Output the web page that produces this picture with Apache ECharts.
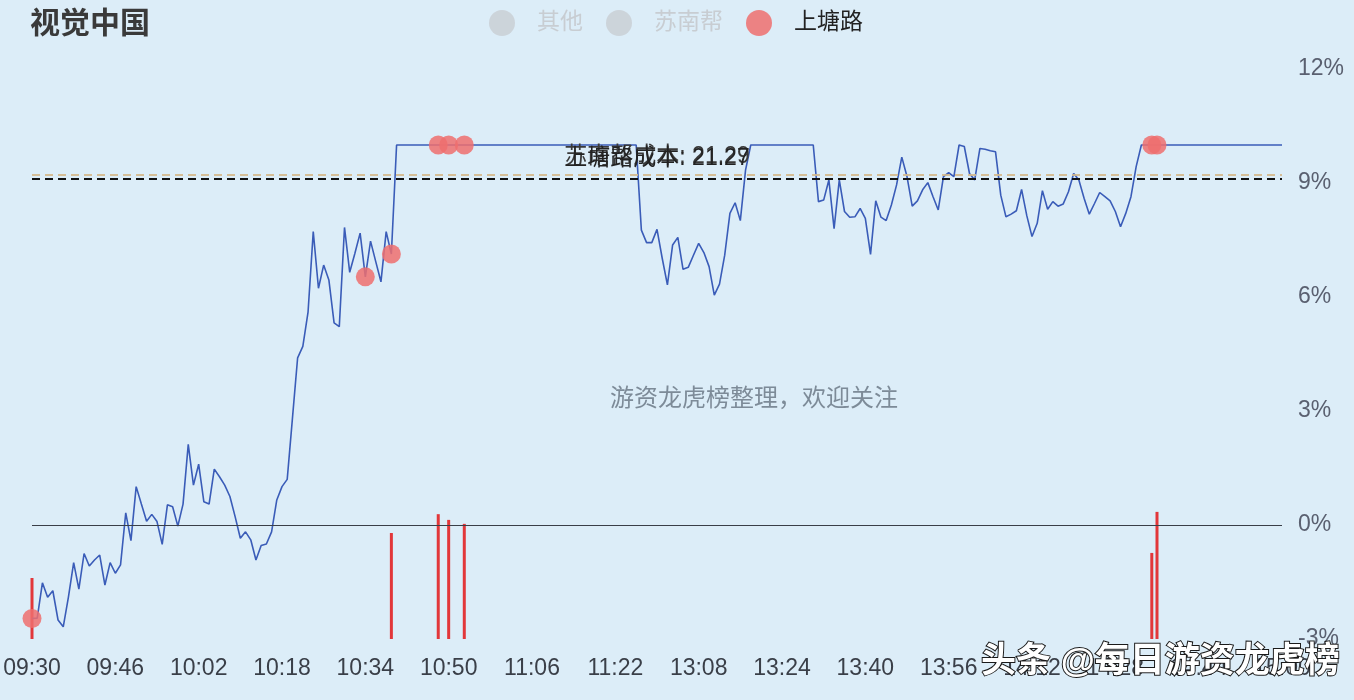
<!DOCTYPE html>
<html>
<head>
<meta charset="utf-8">
<script src="https://cdn.jsdelivr.net/npm/echarts@6/dist/echarts.min.js"></script>
<style>
html,body{margin:0;padding:0;background:#dcedf8;}
#chart{width:1354px;height:700px;}
</style>
</head>
<body>
<div id="chart"></div>
<script>
// ---- data ----
var stockName = '视觉中国';
var legendNames = ['其他', '苏南帮', '上塘路'];
var yTicks = [-3, 0, 3, 6, 9, 12];

// 241 one-minute slots: 09:30-11:30 and 13:01-15:00
function buildTimes() {
  var out = [];
  function push(h, m) { out.push((h < 10 ? '0' : '') + h + ':' + (m < 10 ? '0' : '') + m); }
  for (var t = 9 * 60 + 30; t <= 11 * 60 + 30; t++) push(Math.floor(t / 60), t % 60);
  for (var t2 = 13 * 60 + 1; t2 <= 15 * 60; t2++) push(Math.floor(t2 / 60), t2 % 60);
  return out;
}
var times = buildTimes();

// intraday percent change
var pctChange = [
  -2.46,-2.45,-1.52,-1.90,-1.73,-2.50,-2.68,-1.89,-0.99,-1.69,
  -0.75,-1.08,-0.92,-0.79,-1.58,-0.99,-1.27,-1.05,0.32,-0.41,
  1.01,0.55,0.10,0.28,0.09,-0.51,0.53,0.48,-0.03,0.55,
  2.12,1.05,1.60,0.61,0.55,1.47,1.27,1.05,0.75,0.22,
  -0.35,-0.18,-0.39,-0.92,-0.54,-0.50,-0.18,0.66,1.01,1.20,
  2.80,4.40,4.70,5.60,7.72,6.23,6.84,6.45,5.32,5.22,
  7.83,6.65,7.15,7.68,6.53,7.47,6.93,6.40,7.72,7.13,
  10.0,10.0,10.0,10.0,10.0,10.0,10.0,10.0,10.0,10.0,
  10.0,10.0,10.0,10.0,10.0,10.0,10.0,10.0,10.0,10.0,
  10.0,10.0,10.0,10.0,10.0,10.0,10.0,10.0,10.0,10.0,
  10.0,10.0,10.0,10.0,10.0,10.0,10.0,10.0,10.0,10.0,
  10.0,10.0,10.0,10.0,10.0,10.0,10.0,
  7.76,7.43,7.43,7.78,7.02,6.32,7.37,7.57,6.73,6.78,
  7.10,7.41,7.17,6.80,6.05,6.34,7.10,8.20,8.48,8.01,
  9.34,
  10.0,10.0,10.0,10.0,10.0,10.0,10.0,10.0,10.0,10.0,
  10.0,10.0,10.0,
  8.51,8.55,9.08,7.80,9.08,8.25,8.10,8.11,8.33,8.07,
  7.12,8.53,8.10,8.01,8.42,8.95,9.68,9.17,8.39,8.53,
  8.82,9.01,8.64,8.29,9.17,9.27,9.17,10.0,9.96,9.25,
  9.08,9.91,9.89,9.85,9.82,8.68,8.11,8.18,8.27,8.83,
  8.14,7.59,7.94,8.80,8.31,8.51,8.39,8.45,8.77,9.25,
  9.08,8.60,8.18,8.46,8.75,8.64,8.53,8.25,7.85,8.20,
  8.64,9.43,
  10.0,10.0,10.0,10.0,10.0,10.0,10.0,10.0,10.0,10.0,
  10.0,10.0,10.0,10.0,10.0,10.0,10.0,10.0,10.0,10.0,
  10.0,10.0,10.0,10.0,10.0,10.0,10.0,10.0
];

// 上塘路 trade markers (minute index) and bar heights (relative)
var tradeIdx = [0, 64, 69, 78, 80, 83, 215, 216];
var buyIdx = [0, 69, 78, 80, 83, 215, 216];
var buyVol = [10.7, 18.6, 21.9, 20.9, 20.2, 15.1, 22.3];

// cost lines
var costLines = [
  { name: '苏南帮成本', price: '21.29', pct: 9.22 },
  { name: '上塘路成本', price: '21.27', pct: 9.10 }
];
var watermarkMid = '游资龙虎榜整理，欢迎关注';
var watermarkCorner = '头条 @每日游资龙虎榜';

// ---- chart ----
var FONT = "'Liberation Sans','Noto Sans CJK SC',sans-serif";
var chart = echarts.init(document.getElementById('chart'), null, { renderer: 'canvas' });

var scatterData = tradeIdx.map(function (i) { return [i, pctChange[i]]; });
var barData = buyIdx.map(function (i, k) { return [i, buyVol[k]]; });

var option = {
  backgroundColor: '#dcedf8',
  animation: false,
  textStyle: { fontFamily: FONT },
  title: {
    text: stockName, left: 30, top: 10, padding: 0,
    textStyle: { fontSize: 30, fontWeight: 'bold', color: '#3a3a3a', fontFamily: FONT }
  },
  legend: {
    data: legendNames,
    left: 489, top: 10, padding: 0,
    itemWidth: 60, itemHeight: 26, itemGap: 23,
    icon: 'circle',
    selected: { '其他': false, '苏南帮': false, '上塘路': true },
    inactiveColor: '#c8cdd2',
    textStyle: { fontSize: 23, color: '#222', fontFamily: FONT }
  },
  grid: { left: 32, right: 72, top: 69, bottom: 61 },
  xAxis: {
    type: 'category', data: times, boundaryGap: false,
    axisLine: { show: false }, axisTick: { show: false }, splitLine: { show: false },
    axisLabel: { interval: 15, fontSize: 23, color: '#3a3f48', margin: 18, fontFamily: FONT }
  },
  yAxis: [
    {
      type: 'value', position: 'right', min: -3, max: 12, interval: 3,
      axisLine: { show: false }, axisTick: { show: false }, splitLine: { show: false },
      axisLabel: { formatter: '{value}%', fontSize: 23, color: '#5a6070', margin: 16, padding: [4, 0, 0, 0], fontFamily: FONT }
    },
    { type: 'value', min: 0, max: 100, show: false }
  ],
  series: [
    {
      name: '上塘路买入', type: 'bar', yAxisIndex: 1, data: barData,
      barWidth: 3, itemStyle: { color: '#e2373a' }, z: 1, silent: true
    },
    {
      name: '股价', type: 'line', data: pctChange, symbol: 'none', z: 3,
      lineStyle: { color: '#3a5cb8', width: 1.6 },
      markLine: {
        silent: true, symbol: 'none',
        data: [
          { yAxis: 0, lineStyle: { color: '#3a3f48', type: 'solid', width: 1.2 }, label: { show: false } },
          {
            yAxis: costLines[0].pct,
            lineStyle: { color: 'rgba(212,184,140,0.9)', type: [8, 5], width: 2 },
            label: { show: true, position: 'insideMiddleTop', distance: 6, formatter: costLines[0].name + ': ' + costLines[0].price,
              fontSize: 23, color: '#3a3a3a', fontFamily: FONT }
          },
          {
            yAxis: costLines[1].pct,
            lineStyle: { color: '#111', type: [8, 5], width: 2 },
            label: { show: true, position: 'insideMiddleTop', distance: 9, formatter: costLines[1].name + ': ' + costLines[1].price,
              fontSize: 23, color: '#222', fontFamily: FONT }
          }
        ]
      }
    },
    { name: '其他', type: 'scatter', data: [], itemStyle: { color: '#aaa' } },
    { name: '苏南帮', type: 'scatter', data: [], itemStyle: { color: '#aaa' } },
    {
      name: '上塘路', type: 'scatter', data: scatterData, symbolSize: 19, z: 5,
      itemStyle: { color: '#ee6f6f', opacity: 0.85 }
    }
  ],
  graphic: [
    {
      type: 'text', left: 610, top: 387, silent: true,
      style: { text: watermarkMid, fill: '#7d8b98', font: '24px ' + FONT }
    },
    {
      type: 'text', left: 980, top: 644, silent: true, z: 100,
      style: { text: watermarkCorner, fill: '#ffffff', stroke: '#1a1a1a', lineWidth: 2, font: 'bold 35px ' + FONT }
    }
  ]
};
chart.setOption(option);
</script>
</body>
</html>
